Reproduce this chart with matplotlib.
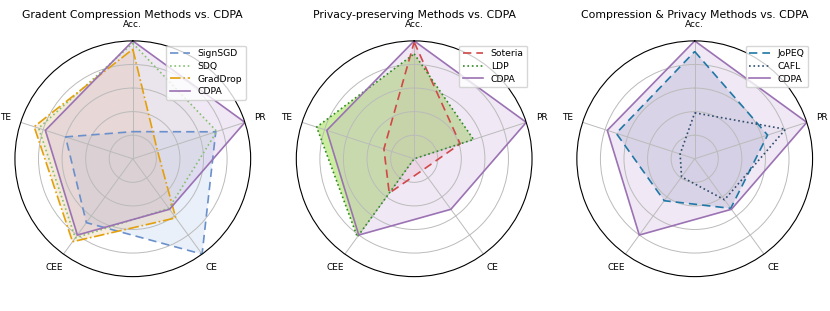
import numpy as np
import matplotlib
matplotlib.use('Agg')
import matplotlib.pyplot as plt

labels = ['Acc.', 'PR', 'CE', 'CEE', 'TE']

# panel 1: gradient compression
signsgd = [0.23, 0.74, 1.0, 0.67, 0.60]
sdq = [0.98, 0.75, 0.52, 0.83, 0.84]
graddrop = [0.93, 0.22, 0.62, 0.87, 0.88]
# panel 2: privacy-preserving
soteria = [0.99, 0.41, 0.12, 0.36, 0.27]
ldp = [0.89, 0.53, 0.0, 0.82, 0.87]
# panel 3: compression & privacy
jopeq = [0.91, 0.65, 0.52, 0.44, 0.70]
cafl = [0.39, 0.81, 0.43, 0.19, 0.13]
# ours
cdpa = [1.0, 1.0, 0.53, 0.80, 0.78]

titles = ['Gradent Compression Methods vs. CDPA',
          'Privacy-preserving Methods vs. CDPA',
          'Compression & Privacy Methods vs. CDPA']

angles = np.linspace(0, 2*np.pi, len(labels), endpoint=False)

def closed(v):
    return np.concatenate([v, v[:1]])

def radar(ax, series, title):
    ax.set_theta_offset(np.pi/2)
    ax.set_theta_direction(-1)
    a = closed(angles)
    for name, vals, col, ls, fcol, alpha in series:
        v = closed(np.array(vals, dtype=float))
        ax.plot(a, v, color=col, linestyle=ls, linewidth=1.2, label=name)
        ax.fill(a, v, color=fcol, alpha=alpha, linewidth=0)
    ax.set_ylim(0, 1.0)
    ax.set_yticks([0.2, 0.4, 0.6, 0.8])
    ax.set_yticklabels([])
    ax.set_xticks(angles)
    ax.set_xticklabels(labels, fontsize=6.5)
    ax.tick_params(axis='x', pad=1)
    ax.grid(color='#bbbbbb', linewidth=0.7)
    ax.spines['polar'].set_linewidth(0.8)
    ax.set_title(title, fontsize=7.8, pad=2)
    ax.legend(loc='upper right', bbox_to_anchor=(1.0, 1.0), fontsize=6.7,
              handlelength=2.2, borderpad=0.4, labelspacing=0.4)

cdpa_s = ('CDPA', cdpa, '#9b72b3', '-', '#c4a4d8', 0.25)

panels = [
    [('SignSGD', signsgd, '#6a90cc', (0, (5, 3)), '#a8c4ec', 0.25),
     ('SDQ', sdq, '#86c070', ':', '#c0dca8', 0.12),
     ('GradDrop', graddrop, '#e2a10c', '-.', '#e8b070', 0.22),
     cdpa_s],
    [('Soteria', soteria, '#d04848', (0, (5, 3)), '#f0a8b8', 0.25),
     ('LDP', ldp, '#2f8a22', ':', '#a8e260', 0.6),
     cdpa_s],
    [('JoPEQ', jopeq, '#1f78a6', (0, (5, 3)), '#b4bcd4', 0.4),
     ('CAFL', cafl, '#2e4d6c', ':', '#c0c8d8', 0.12),
     cdpa_s],
]

fig = plt.figure(figsize=(8.3, 3.11), dpi=100)
lefts = [0.018, 0.357, 0.695]
for i in range(3):
    ax = fig.add_axes([lefts[i], 0.11, 0.284, 0.759], projection='polar')
    radar(ax, panels[i], titles[i])

fig.savefig('out.png', dpi=100)
